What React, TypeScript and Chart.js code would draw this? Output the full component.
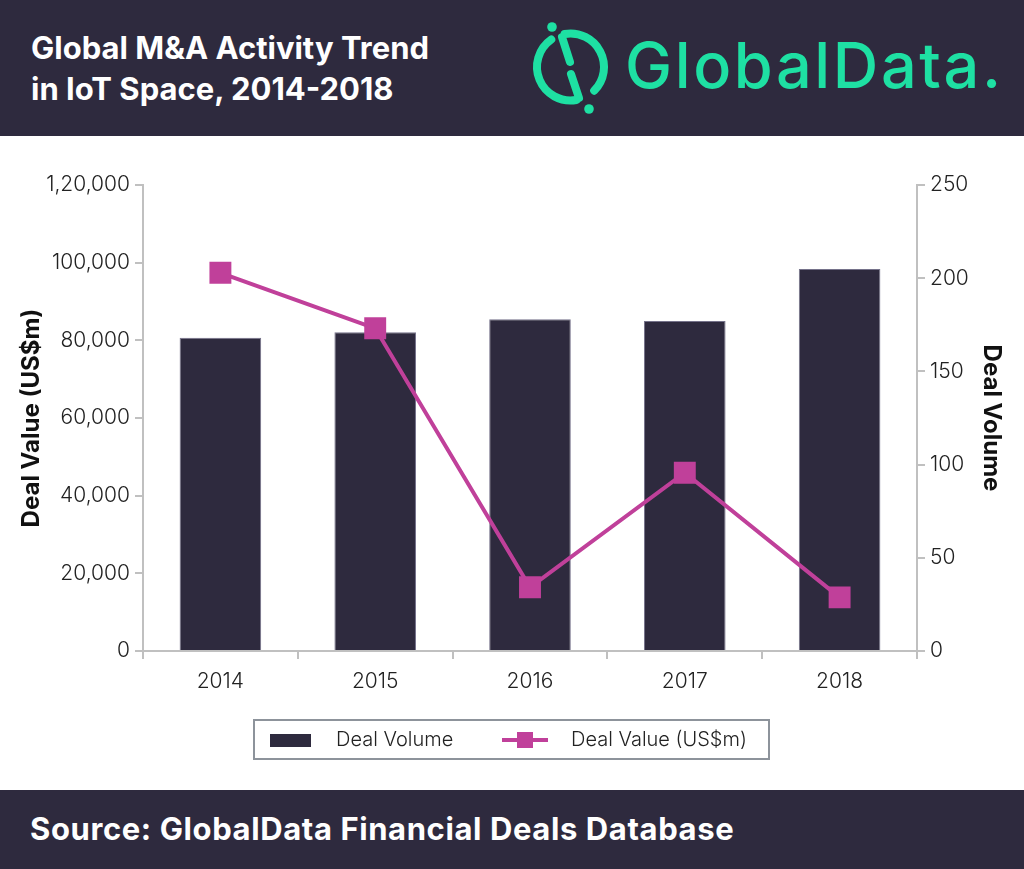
import React, { useEffect, useRef } from "react";
import { Chart, registerables } from "chart.js";

Chart.register(...registerables);

const years = ["2014", "2015", "2016", "2017", "2018"];
const dealVolume = [168, 171, 178, 177, 205];
const dealValue = [97400, 83100, 16400, 45900, 13800];
const leftTickLabels = ["0", "20,000", "40,000", "60,000", "80,000", "100,000", "1,20,000"];
const rightTickLabels = ["0", "50", "100", "150", "200", "250"];

const DARK = "#2e2a3e";
const MAGENTA = "#c0409a";
const GREEN = "#1ee0a3";
const AXIS = "#c0c0c0";
const TICK_FONT = { family: "Inter", size: 21, weight: 300 as any };
const TITLE_FONT = { family: "Inter", size: 24, weight: "bold" as any };

function ChartBox() {
  const ref = useRef<HTMLCanvasElement | null>(null);
  useEffect(() => {
    if (!ref.current) return;
    const chart = new Chart(ref.current, {
      type: "bar",
      data: {
        labels: years,
        datasets: [
          {
            type: "line" as const,
            label: "Deal Value (US$m)",
            data: dealValue,
            yAxisID: "yL",
            borderColor: MAGENTA,
            backgroundColor: MAGENTA,
            borderWidth: 4,
            pointStyle: "rect",
            pointRadius: 15.5,
            pointBackgroundColor: MAGENTA,
            pointBorderWidth: 0,
            order: 0,
          } as any,
          {
            type: "bar" as const,
            label: "Deal Volume",
            data: dealVolume,
            yAxisID: "yR",
            backgroundColor: DARK,
            borderColor: "#75728a",
            borderWidth: 1,
            barPercentage: 0.527,
            categoryPercentage: 1,
            order: 1,
          } as any,
        ],
      },
      options: {
        animation: false,
        responsive: true,
        maintainAspectRatio: false,
        layout: { padding: { top: 49, left: 0, right: 0, bottom: 0 } },
        plugins: { legend: { display: false }, tooltip: { enabled: false } },
        scales: {
          x: {
            type: "category",
            offset: true,
            grid: {
              display: true,
              drawOnChartArea: false,
              drawTicks: true,
              tickLength: 8,
              color: AXIS,
              lineWidth: 2,
              offset: true,
            },
            border: { display: true, color: AXIS, width: 2 },
            ticks: { font: TICK_FONT, color: "#222", padding: 10, maxRotation: 0 },
            afterFit: (s: any) => {
              s.height = 139;
            },
          },
          yL: {
            type: "linear",
            position: "left",
            min: 0,
            max: 120000,
            grid: {
              display: true,
              drawOnChartArea: false,
              drawTicks: true,
              tickLength: 8,
              color: AXIS,
              lineWidth: 2,
            },
            border: { display: true, color: AXIS, width: 2 },
            ticks: {
              stepSize: 20000,
              font: TICK_FONT,
              color: "#222",
              padding: 5,
              callback: (_v: any, i: number) => leftTickLabels[i],
            },
            title: {
              display: true,
              text: "Deal Value (US$m)",
              font: TITLE_FONT,
              color: "#111",
              padding: { top: 17.5, bottom: 0 },
            },
            afterFit: (s: any) => {
              s.width = 143;
            },
          },
          yR: {
            type: "linear",
            position: "right",
            min: 0,
            max: 250,
            grid: {
              display: true,
              drawOnChartArea: false,
              drawTicks: true,
              tickLength: 8,
              color: AXIS,
              lineWidth: 2,
            },
            border: { display: true, color: AXIS, width: 2 },
            ticks: {
              stepSize: 50,
              font: TICK_FONT,
              color: "#222",
              padding: 5,
              callback: (_v: any, i: number) => rightTickLabels[i],
            },
            title: {
              display: true,
              text: "Deal Volume",
              font: TITLE_FONT,
              color: "#111",
              padding: { top: 18.5, bottom: 0 },
            },
            afterFit: (s: any) => {
              s.width = 107;
            },
          },
        } as any,
      },
    });
    return () => chart.destroy();
  }, []);
  return (
    <div style={{ position: "absolute", left: 0, top: 136, width: 1024, height: 654 }}>
      <canvas ref={ref} />
    </div>
  );
}

function Logo() {
  const cx = 570.5;
  const cy = 67;
  const r = 33.5;
  const pt = (deg: number) => {
    const a = (deg * Math.PI) / 180;
    return [cx + r * Math.cos(a), cy + r * Math.sin(a)];
  };
  const [ra1x, ra1y] = pt(-100);
  const [ra2x, ra2y] = pt(45);
  const [la1x, la1y] = pt(80);
  const [la2x, la2y] = pt(235);
  return (
    <svg
      width={1024}
      height={136}
      style={{ position: "absolute", left: 0, top: 0 }}
    >
      <g stroke={GREEN} strokeWidth={8} strokeLinecap="round" fill="none">
        <path d={`M ${ra1x} ${ra1y} A ${r} ${r} 0 0 1 ${ra2x} ${ra2y}`} />
        <path d={`M ${la1x} ${la1y} A ${r} ${r} 0 0 1 ${la2x} ${la2y}`} />
        <line x1={562} y1={37} x2={570} y2={62} />
        <line x1={571} y1={74} x2={579} y2={98} />
      </g>
      <circle cx={552} cy={27} r={4.8} fill={GREEN} />
      <circle cx={589} cy={109} r={4.8} fill={GREEN} />
      <text
        x={625}
        y={88}
        fill={GREEN}
        fontFamily="Inter"
        fontWeight={500}
        fontSize={63}
        letterSpacing={2.6}
      >
        GlobalData.
      </text>
    </svg>
  );
}

function Legend() {
  return (
    <div
      style={{
        position: "absolute",
        left: 253,
        top: 719,
        width: 517,
        height: 41,
        boxSizing: "border-box",
        border: "2px solid #8d939b",
        fontFamily: "Inter",
        fontWeight: 300,
        fontSize: 20,
        color: "#222",
      }}
    >
      <div style={{ position: "absolute", left: 15, top: 13, width: 41, height: 13, background: DARK }} />
      <div style={{ position: "absolute", left: 81, top: 0, lineHeight: "37px" }}>Deal Volume</div>
      <div style={{ position: "absolute", left: 247, top: 17, width: 46, height: 4, background: MAGENTA }} />
      <div style={{ position: "absolute", left: 262, top: 11, width: 16, height: 16, background: MAGENTA }} />
      <div style={{ position: "absolute", left: 316, top: 0, lineHeight: "37px" }}>Deal Value (US$m)</div>
    </div>
  );
}

export default function App() {
  return (
    <div
      style={{
        position: "absolute",
        left: 0,
        top: 0,
        width: 1024,
        height: 869,
        background: "#fff",
        overflow: "hidden",
      }}
    >
      <div style={{ position: "absolute", left: 0, top: 0, width: 1024, height: 136, background: DARK }} />
      <div
        style={{
          position: "absolute",
          left: 31,
          top: 28,
          fontFamily: "Inter",
          fontWeight: 700,
          fontSize: 31,
          lineHeight: "40.5px",
          color: "#fff",
          whiteSpace: "nowrap",
        }}
      >
        Global M&amp;A Activity Trend
        <br />
        in IoT Space, 2014-2018
      </div>
      <Logo />
      <ChartBox />
      <Legend />
      <div style={{ position: "absolute", left: 0, top: 790, width: 1024, height: 79, background: DARK }} />
      <div
        style={{
          position: "absolute",
          left: 30,
          top: 810,
          fontFamily: "Inter",
          fontWeight: 700,
          fontSize: 31,
          lineHeight: "38px",
          letterSpacing: 0.6,
          color: "#fff",
          whiteSpace: "nowrap",
        }}
      >
        Source: GlobalData Financial Deals Database
      </div>
    </div>
  );
}
